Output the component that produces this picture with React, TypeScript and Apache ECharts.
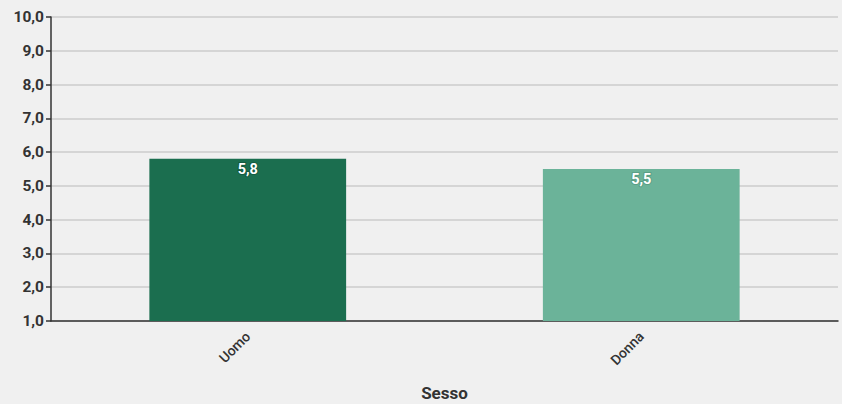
import React, { useEffect, useRef } from "react";
import * as echarts from "echarts";

const categories = ["Uomo", "Donna"];
const values = [5.8, 5.5];
const barColors = ["#1b6e4f", "#6bb399"];
const labelBorders = ["#145a40", "#5a9f86"];
const axisName = "Sesso";

const fmt = (v: number) => v.toFixed(1).replace(".", ",");

export default function App() {
  const ref = useRef<HTMLDivElement>(null);
  useEffect(() => {
    if (!ref.current) return;
    const chart = echarts.init(ref.current, null, { renderer: "svg" });
    chart.setOption({
      animation: false,
      backgroundColor: "#f0f0f0",
      textStyle: { fontFamily: "Roboto" },
      grid: { left: 51, right: 4, top: 17, bottom: 83, containLabel: false, outerBoundsMode: "none" },
      xAxis: {
        type: "category",
        data: categories,
        name: axisName,
        nameLocation: "middle",
        nameGap: 63,
        nameTextStyle: { fontSize: 17, fontWeight: "bold", color: "#333" },
        axisLine: { lineStyle: { color: "#333", width: 1.5 } },
        axisTick: { alignWithLabel: true, length: 8, lineStyle: { color: "#333", width: 1.5 } },
        axisLabel: { rotate: 45, fontSize: 14, fontWeight: 500, color: "#333", margin: 13 },
      },
      yAxis: {
        type: "value",
        min: 1,
        max: 10,
        interval: 1,
        axisLine: { show: true, lineStyle: { color: "#333", width: 1.5 } },
        axisTick: { show: true, length: 5, lineStyle: { color: "#333", width: 1.5 } },
        axisLabel: { formatter: (v: number) => fmt(v), fontSize: 15.5, fontWeight: "bold", color: "#333", margin: 7 },
        splitLine: { lineStyle: { color: "#cccccc", width: 1.5 } },
      },
      series: [
        {
          type: "bar",
          barWidth: "50%",
          data: values.map((v, i) => ({
            value: v,
            itemStyle: { color: barColors[i] },
            label: { textBorderColor: labelBorders[i] },
          })),
          label: {
            show: true,
            position: "insideTop",
            distance: 3,
            formatter: (p: any) => fmt(p.value),
            color: "#fff",
            fontSize: 14.5,
            fontWeight: "bold",
            textBorderWidth: 2,
          },
        },
      ],
    });
    return () => chart.dispose();
  }, []);
  return <div ref={ref} style={{ width: 842, height: 404, position: "fixed", left: 0, top: 0 }} />;
}
